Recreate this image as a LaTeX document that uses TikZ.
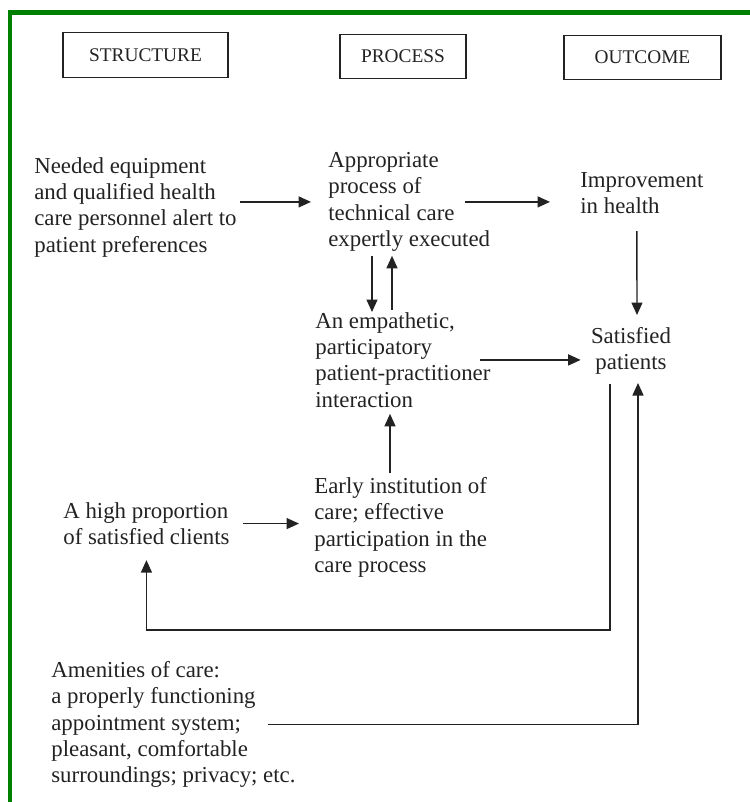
\documentclass[tikz,border=0pt]{standalone}
\usepackage{fontspec}
\setmainfont{Liberation Serif}
\usetikzlibrary{arrows.meta,calc}
\definecolor{frame}{HTML}{008000}
\definecolor{ink}{HTML}{222222}

\begin{document}
\begin{tikzpicture}[x=0.02cm, y=-0.02cm,
  txt/.style={anchor=north west, align=left, inner sep=0pt, text=ink,
    font=\fontsize{13}{15}\selectfont},
  head/.style={draw=ink, line width=0.8pt, inner sep=0pt, minimum height=0.89cm,
    text=ink, font=\fontsize{11}{13}\selectfont},
  arr/.style={-{Triangle[length=2.5mm,width=2.2mm]}, line width=0.8pt, draw=ink}]
\useasboundingbox (0, 0) rectangle (750, 802);
% green frame, top and left only
\fill[frame] (8, 10) rectangle (750, 15);
\fill[frame] (8, 10) rectangle (12, 802);

% column heads
\node (structure) at (145.5, 55) [head, minimum width=3.3cm] {STRUCTURE};
\node (process) at (403, 56.5) [head, minimum width=2.52cm] {PROCESS};
\node (outcome) at (642.5, 57.5) [head, minimum width=3.14cm] {OUTCOME};

% structure
\node (needed) at (34, 157) [txt] {Needed equipment\\and qualified health\\care personnel alert to\\patient preferences};
\node (high) at (63, 502) [txt] {A high proportion\\of satisfied clients};
\node (amen) at (51, 661) [txt] {Amenities of care:\\a properly functioning\\appointment system;\\pleasant, comfortable\\surroundings; privacy; etc.};

% process
\node (approp) at (328, 152) [txt] {Appropriate\\process of\\technical care\\expertly executed};
\node (empath) at (315, 312) [txt] {An empathetic,\\participatory\\patient-practitioner\\interaction};
\node (early) at (314, 477) [txt] {Early institution of\\care; effective\\participation in the\\care process};

% outcome
\node (improv) at (580, 172) [txt] {Improvement\\in health};
\node (satisf) at (631, 327) [txt, anchor=north, align=center] {Satisfied\\patients};

\draw[arr, shorten <=0.6mm, shorten >=3.4mm] (needed.east |- approp.west) -- (approp.west);
\draw[arr, shorten >=6mm] ($(approp.east)+(-25,0)$) -- (approp.east -| improv.west);
\draw[arr] ($(improv.south)+(-5,17)$) -- ($(satisf.north)+(6,-12)$);
\draw[arr] ($(approp.south west)+(44,4)$) -- ($(empath.north west)+(57,0)$);
\draw[arr] ($(empath.north west)+(77,-2)$) -- ($(approp.south west)+(64,4)$);
\draw[arr, shorten >=2mm] ($(empath.east)+(-11,0)$) -- (empath.east -| satisf.west);
\draw[arr] ($(early.north west)+(76,-4)$) -- ($(empath.south west)+(75,6)$);
\draw[arr, shorten <=2.6mm, shorten >=3mm] (high.east) -- (high.east -| early.west);
\draw[arr] ($(satisf.south)+(-21,9)$) |- ($(high.south)+(0,85)$) -- ($(high.south)+(0,15)$);
\draw[arr] ($(amen.east)+(-28,0)$) -| ($(satisf.south)+(7,8)$);
\end{tikzpicture}
\end{document}
